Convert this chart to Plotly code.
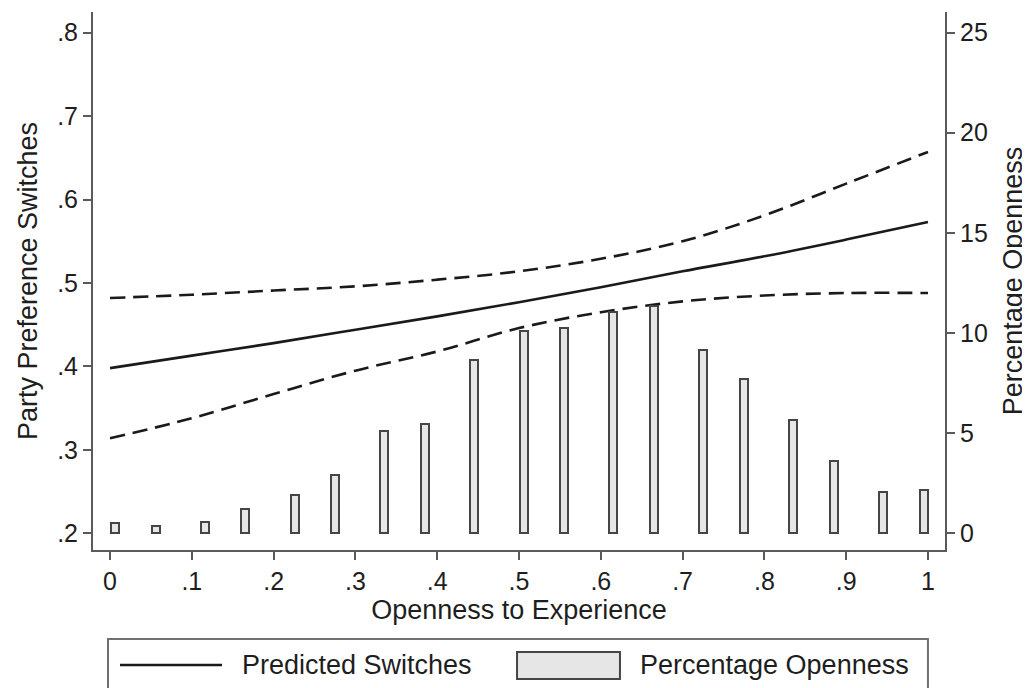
import plotly.graph_objects as go

# ---- data ----
x_curve = [0.0, 0.1, 0.2, 0.3, 0.4, 0.5, 0.6, 0.7, 0.8, 0.9, 1.0]
predicted = [0.398, 0.413, 0.428, 0.444, 0.460, 0.477, 0.495, 0.514, 0.532, 0.552, 0.573]
upper_ci = [0.482, 0.486, 0.491, 0.496, 0.504, 0.514, 0.529, 0.550, 0.581, 0.619, 0.657]
lower_ci = [0.314, 0.338, 0.367, 0.395, 0.418, 0.446, 0.465, 0.478, 0.485, 0.488, 0.488]

bar_x = [0.006, 0.056, 0.116, 0.165, 0.226, 0.275, 0.335, 0.385, 0.445, 0.506,
         0.555, 0.615, 0.665, 0.725, 0.775, 0.835, 0.885, 0.945, 0.995]
bar_pct = [0.5, 0.35, 0.55, 1.2, 1.9, 2.9, 5.1, 5.45, 8.65, 10.1,
           10.25, 11.05, 11.35, 9.15, 7.7, 5.65, 3.6, 2.05, 2.15]

x_ticks = [0, 0.1, 0.2, 0.3, 0.4, 0.5, 0.6, 0.7, 0.8, 0.9, 1.0]
x_ticktext = ["0", ".1", ".2", ".3", ".4", ".5", ".6", ".7", ".8", ".9", "1"]
y_ticks = [0.2, 0.3, 0.4, 0.5, 0.6, 0.7, 0.8]
y_ticktext = [".2", ".3", ".4", ".5", ".6", ".7", ".8"]
y2_ticks = [0, 5, 10, 15, 20, 25]

FONT = "Liberation Sans, Arial, Helvetica, sans-serif"
TXT = "#1e1e1e"
AX = "#5a5a5a"
TITLE_SIZE = 27
TICK_SIZE = 25

fig = go.Figure()

fig.add_trace(go.Bar(
    x=bar_x, y=bar_pct, yaxis="y2", width=0.0098,
    marker=dict(color="#e6e6e6", line=dict(color="#454545", width=2)),
    name="Percentage Openness", showlegend=False,
))
fig.add_trace(go.Scatter(
    x=x_curve, y=upper_ci, mode="lines", line=dict(color="#1a1a1a", width=2.6, dash="15px,8px", shape="spline"),
    showlegend=False, name="Upper CI",
))
fig.add_trace(go.Scatter(
    x=x_curve, y=lower_ci, mode="lines", line=dict(color="#1a1a1a", width=2.6, dash="15px,8px", shape="spline"),
    showlegend=False, name="Lower CI",
))
fig.add_trace(go.Scatter(
    x=x_curve, y=predicted, mode="lines", line=dict(color="#1a1a1a", width=2.6, shape="spline"),
    showlegend=False, name="Predicted Switches",
))

axis_common = dict(
    showgrid=False, zeroline=False, showline=True, linecolor=AX, linewidth=2,
    ticks="outside", ticklen=8, tickwidth=2, tickcolor=AX,
    tickfont=dict(family=FONT, size=TICK_SIZE, color=TXT),
)

# The page body adds an 8px offset, so the figure is 8px smaller and shifted accordingly.
fig.update_layout(
    width=1022, height=680,
    margin=dict(l=85, r=85, t=4, b=138, autoexpand=False),
    paper_bgcolor="white", plot_bgcolor="white",
    font=dict(family=FONT, color=TXT),
    bargap=0,
    xaxis=dict(
        range=[-0.0208, 1.0208], tickvals=x_ticks, ticktext=x_ticktext,
        title=dict(text="Openness to Experience", font=dict(family=FONT, size=TITLE_SIZE, color=TXT), standoff=6),
        **axis_common,
    ),
    yaxis=dict(
        range=[0.1802, 0.8246], tickvals=y_ticks, ticktext=y_ticktext,
        title=dict(text="Party Preference Switches", font=dict(family=FONT, size=TITLE_SIZE, color=TXT), standoff=12),
        **axis_common,
    ),
    yaxis2=dict(
        range=[-0.825, 26.025], tickvals=y2_ticks, overlaying="y", side="right",
        title=dict(text="Percentage Openness", font=dict(family=FONT, size=TITLE_SIZE, color=TXT), standoff=16),
        **axis_common,
    ),
)

# ---- legend drawn as a framed key below the plot ----
fig.add_shape(type="rect", xref="paper", yref="paper", x0=0.0176, x1=0.980, y0=-0.30, y1=-0.1654,
              line=dict(color="#707070", width=2), fillcolor="white", layer="above")
fig.add_shape(type="line", xref="paper", yref="paper", x0=0.0317, x1=0.1514, y0=-0.2138, y1=-0.2138,
              line=dict(color="#1a1a1a", width=2.6))
fig.add_shape(type="rect", xref="paper", yref="paper", x0=0.4977, x1=0.6185, y0=-0.2398, y1=-0.1896,
              line=dict(color="#454545", width=2), fillcolor="#e6e6e6")
fig.add_annotation(xref="paper", yref="paper", x=0.1725, y=-0.2138, xanchor="left", yanchor="middle",
                   text="Predicted Switches", showarrow=False, font=dict(family=FONT, size=TITLE_SIZE, color=TXT))
fig.add_annotation(xref="paper", yref="paper", x=0.6397, y=-0.2138, xanchor="left", yanchor="middle",
                   text="Percentage Openness", showarrow=False, font=dict(family=FONT, size=TITLE_SIZE, color=TXT))

fig.write_html("out.html")
